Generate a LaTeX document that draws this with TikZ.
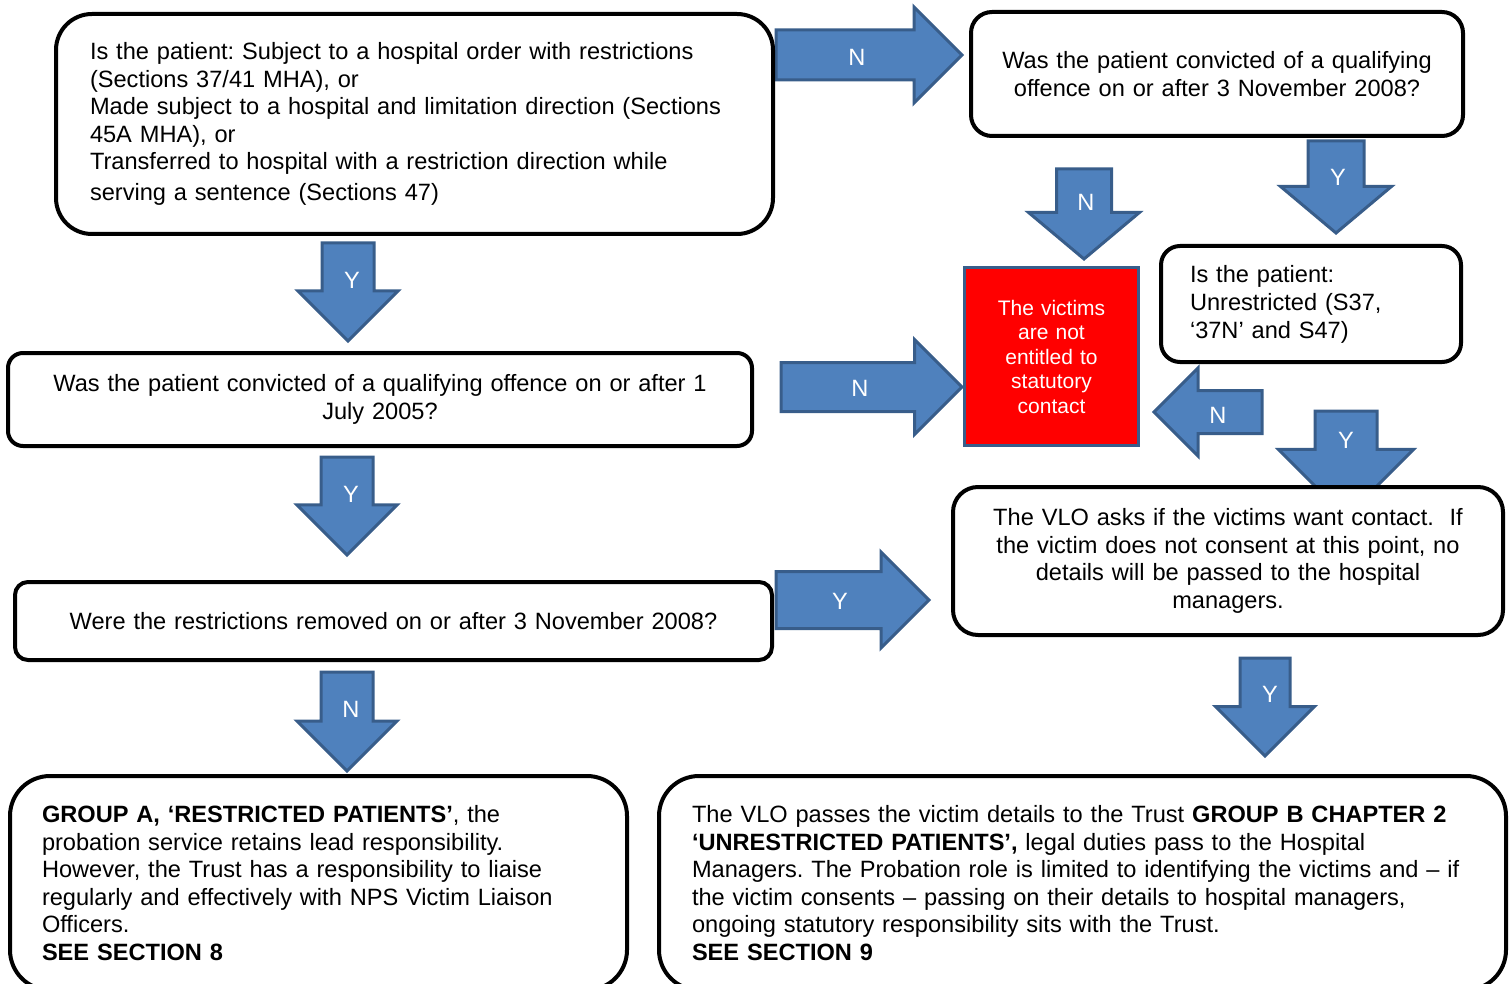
\documentclass[tikz,border=0pt]{standalone}
\usepackage{fontspec}
\setmainfont{Liberation Sans}
\usetikzlibrary{shapes.arrows}

\definecolor{arrowfill}{HTML}{4F81BD}
\definecolor{arrowedge}{HTML}{385D8A}

\begin{document}
\frenchspacing
\begin{tikzpicture}[x=0.5pt, y=-0.5pt,
    qbox/.style={draw, line width=2pt, fill=white, outer sep=0pt, font=\fontsize{11.8}{13.8}\selectfont},
    blk/.style={single arrow, draw=arrowedge, fill=arrowfill, line width=1.5pt, inner xsep=0pt, outer sep=0pt, anchor=tail},
    lbl/.style={text=white, inner sep=0pt, font=\fontsize{11.8}{14}\selectfont}
    ]
    \useasboundingbox (0,0) rectangle (1510,984);
    \clip (0,0) rectangle (1510,984);

    % block arrows first, the boxes lie over them
    \node [blk, minimum height=93pt, inner ysep=11.75pt, single arrow head extend=11.5pt] (aN1) at (776,55) {};
    \node [blk, rotate=-90, minimum height=49pt, inner ysep=12.25pt, single arrow head extend=12pt] (aY1) at (348,243) {};
    \node [blk, minimum height=90.5pt, inner ysep=11.5pt, single arrow head extend=11.5pt] (aN2) at (781,387) {};
    \node [blk, rotate=-90, minimum height=49pt, inner ysep=12.25pt, single arrow head extend=12pt] (aY2) at (347,457) {};
    \node [blk, minimum height=76.5pt, inner ysep=13.5pt, single arrow head extend=9.75pt] (aY3) at (776,600) {};
    \node [blk, rotate=-90, minimum height=49.5pt, inner ysep=12.25pt, single arrow head extend=12pt] (aN3) at (347,672) {};
    \node [blk, rotate=-90, minimum height=45pt, inner ysep=13pt, single arrow head extend=14pt, single arrow tip angle=100] (aN4) at (1084,169) {};
    \node [blk, rotate=-90, minimum height=46pt, inner ysep=13.25pt, single arrow head extend=13.75pt, single arrow tip angle=100] (aY4) at (1336,141) {};
    \node [blk, rotate=180, minimum height=54pt, inner ysep=10pt, single arrow head extend=11.25pt] (aN5) at (1262,412) {};
    \node [blk, rotate=-90, minimum height=53pt, inner ysep=14.75pt, single arrow head extend=18.25pt] (aY5) at (1346,411) {};
    \node [blk, rotate=-90, minimum height=49pt, inner ysep=11.75pt, single arrow head extend=12.25pt] (aY6) at (1265,658) {};

    \node [lbl] (aN1l) at (857,57) {N};
    \node [lbl] (aY1l) at (352,280) {Y};
    \node [lbl] (aN2l) at (860,388) {N};
    \node [lbl] (aY2l) at (351,494) {Y};
    \node [lbl] (aY3l) at (840,601) {Y};
    \node [lbl] (aN3l) at (351,709) {N};
    \node [lbl] (aN4l) at (1086,202) {N};
    \node [lbl] (aY4l) at (1338,177) {Y};
    \node [lbl] (aN5l) at (1218,415) {N};
    \node [lbl] (aY5l) at (1346,440) {Y};
    \node [lbl] (aY6l) at (1270,694) {Y};

    % question boxes
    \node [qbox, rounded corners=18pt, align=left, minimum width=358.5pt, minimum height=110pt, inner xsep=17pt, text width=324.5pt] (q1) at (414.5,124)
        {Is the patient: Subject to a hospital order with restrictions\\
         (Sections 37/41 MHA), or\\
         Made subject to a hospital and limitation direction (Sections\\
         45A MHA), or\\
         Transferred to hospital with a restriction direction while\\[1.5pt]
         serving a sentence (Sections 47)};
    \node [qbox, rounded corners=10.5pt, align=center, minimum width=246pt, minimum height=62pt, text width=236pt] (q2) at (1217,74)
        {Was the patient convicted of a qualifying\\ offence on or after 3 November 2008?};
    \node [qbox, rounded corners=7.5pt, align=center, minimum width=372pt, minimum height=46.5pt, text width=362pt] (q3) at (380,399.5)
        {Was the patient convicted of a qualifying offence on or after 1\\ July 2005?};
    \node [qbox, rounded corners=6.5pt, align=center, minimum width=378.5pt, minimum height=39pt, text width=368pt] (q4) at (393.5,621)
        {Were the restrictions removed on or after 3 November 2008?};
    \node [qbox, rounded corners=9.5pt, align=left, minimum width=150pt, minimum height=58pt, inner xsep=14.5pt, text width=121pt, font=\fontsize{11.8}{14}\selectfont] (q5) at (1311,304)
        {Is the patient:\\ Unrestricted (S37,\\ ‘37N’ and S47)};

    % not entitled
    \node [draw=arrowedge, fill=red, line width=1.5pt, text=white, align=center, outer sep=0pt, minimum width=86.5pt, minimum height=88.5pt, text width=80pt, font=\fontsize{10.5}{12.25}\selectfont] (nv) at (1051.5,356.5)
        {The victims\\ are not\\ entitled to\\ statutory\\ contact};

    \node [qbox, rounded corners=12.5pt, align=center, minimum width=275pt, minimum height=74pt, text width=265pt] (vlo) at (1228,561)
        {The VLO asks if the victims want contact.\ \ If\\
         the victim does not consent at this point, no\\
         details will be passed to the hospital\\
         managers.};

    % outcomes
    \node [qbox, rounded corners=20pt, align=left, minimum width=308.5pt, minimum height=107pt, inner xsep=16pt, text width=276.5pt] (ga) at (318.5,883)
        {\textbf{GROUP A, ‘RESTRICTED PATIENTS’}, the\\
         probation service retains lead responsibility.\\
         However, the Trust has a responsibility to liaise\\
         regularly and effectively with NPS Victim Liaison\\
         Officers.\\
         \textbf{SEE SECTION 8}};
    \node [qbox, rounded corners=20pt, align=left, minimum width=423.5pt, minimum height=107pt, inner xsep=16.5pt, text width=390.5pt] (gb) at (1082.5,883)
        {The VLO passes the victim details to the Trust \textbf{GROUP B CHAPTER 2}\\
         \textbf{‘UNRESTRICTED PATIENTS’,} legal duties pass to the Hospital\\
         Managers. The Probation role is limited to identifying the victims and – if\\
         the victim consents – passing on their details to hospital managers,\\
         ongoing statutory responsibility sits with the Trust.\\
         \textbf{SEE SECTION 9}};

\end{tikzpicture}
\end{document}
